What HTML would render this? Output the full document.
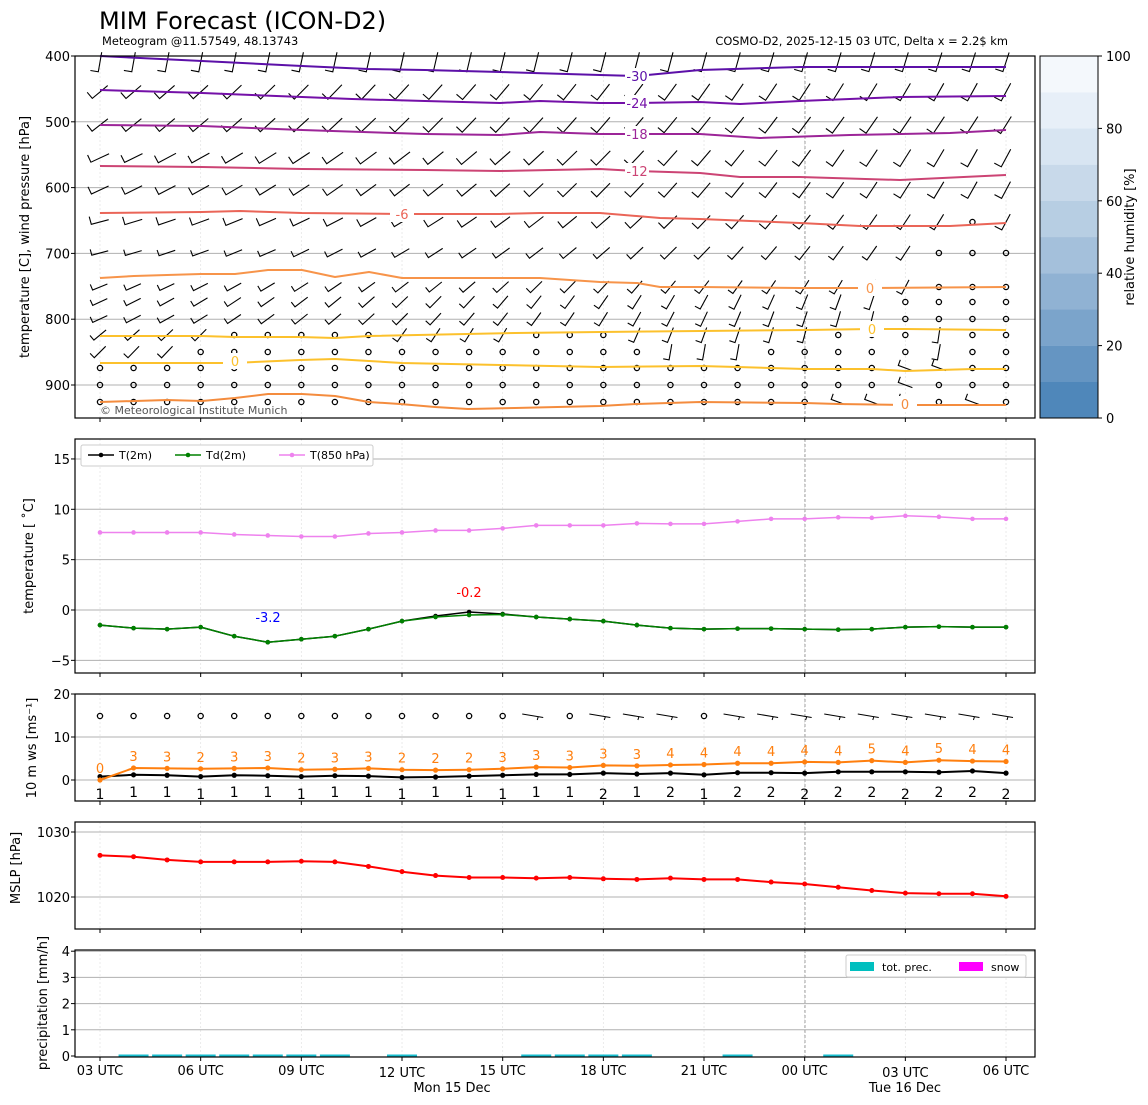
<!DOCTYPE html>
<html><head><meta charset="utf-8">
<style>
html,body{margin:0;padding:0;background:#fff;}
svg{display:block;font-family:"DejaVu Sans","Liberation Sans",sans-serif;}
</style></head>
<body>
<svg id="s" width="1148" height="1105" viewBox="0 0 1148 1105" xmlns="http://www.w3.org/2000/svg">
<rect width="1148" height="1105" fill="#fff"/>
<text x="99" y="29" font-size="24">MIM Forecast (ICON-D2)</text>
<text x="102" y="45" font-size="11.4">Meteogram @11.57549, 48.13743</text>
<text x="1008" y="45" font-size="11.4" text-anchor="end">COSMO-D2, 2025-12-15 03 UTC, Delta x = 2.2$ km</text>
<g id="g"></g>
</svg>
<script>
const NS="http://www.w3.org/2000/svg";const G=document.getElementById('g');
function el(t,a,txt){const e=document.createElementNS(NS,t);for(const k in a)e.setAttribute(k,a[k]);if(txt!==undefined)e.textContent=txt;G.appendChild(e);return e;}
const L=75,R=1035;const X=i=>100+i*33.556;
const panels=[[56,418],[439,673],[694,801],[822,929],[950,1057]];
const majorX=[0,3,6,9,12,15,18,21,24,27].map(X);
panels.forEach(([t,b])=>{
 majorX.forEach(x=>el('line',{x1:x,x2:x,y1:t,y2:b,stroke:'#e6e6e6','stroke-width':0.8,'stroke-dasharray':'2,2'}));
 el('line',{x1:805,x2:805,y1:t,y2:b,stroke:'#666','stroke-width':0.6,'stroke-dasharray':'3,2'});
});
function hgrid(t,ys){ys.forEach(y=>el('line',{x1:L,x2:R,y1:y,y2:y,stroke:'#b0b0b0','stroke-width':1}));}
function ytick(ys,labels,tx){ys.forEach((y,i)=>{el('line',{x1:L-4,x2:L,y1:y,y2:y,stroke:'#000'});el('text',{x:tx||70,y:y+5,'font-size':13,'text-anchor':'end'},labels[i]);});}
function ylab(x,y,s){el('text',{x:x,y:y,'font-size':13,'text-anchor':'middle',transform:`rotate(-90 ${x} ${y})`},s);}
// ---------- Panel 1
const py=p=>56+(p-400)*0.658;
hgrid(0,[500,600,700,800,900].map(py));
ytick([400,500,600,700,800,900].map(py),['400','500','600','700','800','900']);
ylab(29,237,'temperature [C], wind pressure [hPa]');
function barb(x,y,a,len,h,sw){const r=a*Math.PI/180;const c=Math.cos(r),s=Math.sin(r);
 const x1=x-len/2*c,y1=y+len/2*s,x2=x+len/2*c,y2=y-len/2*s;
 const r2=(a+90)*Math.PI/180;const hx=x1+h*Math.cos(r2),hy=y1-h*Math.sin(r2);
 el('path',{d:`M${hx.toFixed(1)},${hy.toFixed(1)}L${x1.toFixed(1)},${y1.toFixed(1)}L${x2.toFixed(1)},${y2.toFixed(1)}`,stroke:'#000','stroke-width':1.1,fill:'none'});}
function calm(x,y){el('circle',{cx:x,cy:y,r:2.6,fill:'none',stroke:'#000','stroke-width':1.3});}
const rows=[[62,80,72,20],[92,40,62,20],[125,38,58,20],[158,25,62,20],[190,25,62,19],[222,15,62,18],[253,15,62,17],[287,22,68,16],[302,25,80,16],[319,25,85,16],[335,40,85,16],[352,45,70,16],[368,45,-20,15],[385,45,-20,15],[402,45,-15,15]];
const calmSet={222:[26],253:[25,26,27],287:[25,26,27],302:[24,25,26,27],319:[24,25,26,27],
335:[4,5,6,7,8,13,14,15,22,23,24,26,27],352:[3,4,5,6,7,8,9,10,11,12,13,14,15,16,20,21,22,23,24,26,27],
368:[0,1,2,3,4,5,6,7,8,9,10,11,12,13,14,15,16,17,18,19,20,21,22,23,26,27],
385:[0,1,2,3,4,5,6,7,8,9,10,11,12,13,14,15,16,17,18,19,20,21,22,23,25,26,27],
402:[0,1,2,3,4,5,6,7,8,9,10,11,12,13,14,15,16,17,18,19,20,21,25,27]};
rows.forEach(([y,a0,a1,len])=>{for(let i=0;i<28;i++){const x=X(i);const cs=calmSet[y]||[];
 if(cs.includes(i)){calm(x,y);continue;}
 let a=a0+(a1-a0)*i/27; if(y>=368) a=-20; if(y==352&&i>=17) a=80;
 barb(x,y,a,len,y<240?8:6);}});
function poly(pts,col,w){el('polyline',{points:pts.map(p=>p.join(',')).join(' '),fill:'none',stroke:col,'stroke-width':w||2,'stroke-linejoin':'round'});}
function clabel(x,y,s,col){el('rect',{x:x-12,y:y-8,width:24,height:16,fill:'#fff'});el('text',{x:x,y:y+5,'font-size':13,'text-anchor':'middle',fill:col},s);}
const C=[
[[[100,56],[202,61],[302,66],[368,69],[425,70],[500,72],[600,75],[637,76],[700,70],[800,67],[900,67],[1006,67]],'#5c10a8',637,76,'-30'],
[[[100,90],[202,93],[302,97],[352,99],[425,101],[500,103],[540,101],[600,103],[637,103],[700,102],[740,104],[800,101],[900,97],[1006,96]],'#7410a8',637,103,'-24'],
[[[100,125],[202,126],[302,130],[425,134],[500,135],[540,132],[600,134],[700,134],[760,138],[850,135],[950,133],[1006,130]],'#9c2598',637,134,'-18'],
[[[100,166],[202,167],[302,169],[425,170],[500,171],[600,169],[637,171],[700,173],[740,177],[800,177],[900,180],[1006,175]],'#cc4474',637,171,'-12'],
[[[100,213],[202,212],[240,211],[302,213],[402,214],[500,214],[540,213],[600,213],[660,218],[700,219],[800,223],[860,226],[950,226],[1006,223]],'#ea6558',402,214,'-6'],
[[[100,278],[134,276],[167,275],[201,274],[235,274],[268,270],[302,270],[335,277],[369,272],[402,278],[500,278],[540,278],[600,282],[637,283],[660,287],[700,287],[800,288],[870,288],[1006,287]],'#f7944a',870,288,'0'],
[[[100,336],[201,336],[235,337],[300,337],[335,338],[369,336],[515,333],[600,332],[700,331],[805,330],[872,329],[905,329],[1006,330]],'#fcc12c',872,329,'0'],
[[[100,363],[233,363],[300,360],[335,359],[369,361],[402,363],[500,365],[600,367],[700,366],[737,367],[805,369],[872,369],[905,371],[973,369],[1006,369]],'#fcc12c',235,361,'0'],
[[[100,402],[167,400],[202,401],[235,398],[268,394],[302,394],[335,396],[369,402],[400,404],[435,407],[468,409],[515,408],[600,406],[637,404],[700,402],[805,403],[838,404],[905,405],[1006,405]],'#f48c3e',905,404,'0']];
C.forEach(([p,c,lx,ly,s])=>{poly(p,c,2);clabel(lx,ly,s,c);});
el('text',{x:100,y:414,'font-size':11,fill:'#555'},'© Meteorological Institute Munich');
const cb=['#4f87ba','#6595c2','#7ba4cb','#90b2d3','#a4c0db','#b7cee3','#c8d9ea','#d8e5f2','#e7eff8','#f4f8fc'];
for(let k=0;k<10;k++){el('rect',{x:1040,y:418-(k+1)*36.2,width:58,height:36.4,fill:cb[k]});}
el('rect',{x:1040,y:56,width:58,height:362,fill:'none',stroke:'#000','stroke-width':1});
for(let k=0;k<=5;k++){const y=418-k*72.4;el('line',{x1:1098,x2:1102,y1:y,y2:y,stroke:'#000'});el('text',{x:1106,y:y+5,'font-size':13},String(k*20));}
ylab(1134,237,'relative humidity [%]');
// ---------- Panel 2
const ty=v=>610-10.07*v;
hgrid(0,[15,10,5,0,-5].map(ty));
ytick([15,10,5,0,-5].map(ty),['15','10','5','0','−5']);
ylab(33,556,'temperature [ ˚C]');
const T850=[7.7,7.7,7.7,7.7,7.5,7.4,7.3,7.3,7.6,7.7,7.9,7.9,8.1,8.4,8.4,8.4,8.6,8.55,8.55,8.8,9.05,9.05,9.2,9.15,9.35,9.25,9.05,9.05];
const T2=[-1.5,-1.8,-1.9,-1.7,-2.6,-3.2,-2.9,-2.6,-1.9,-1.1,-0.6,-0.2,-0.4,-0.7,-0.9,-1.1,-1.5,-1.8,-1.9,-1.85,-1.85,-1.9,-1.95,-1.9,-1.7,-1.65,-1.7,-1.7];
const TD=T2.map((v,i)=>i==10?-0.7:i==11?-0.5:i==12?-0.45:v);
function series(vals,f,col,w,r){poly(vals.map((v,i)=>[X(i).toFixed(1),f(v).toFixed(1)]),col,w);vals.forEach((v,i)=>el('circle',{cx:X(i),cy:f(v),r:r||2.5,fill:col}));}
series(T850,ty,'#ee82ee',1.5,2.3);
series(T2,ty,'#000',1.5,2.3);
series(TD,ty,'#008000',1.5,2.3);
el('text',{x:268,y:622,'font-size':13,'text-anchor':'middle',fill:'#0000ff'},'-3.2');
el('text',{x:469,y:597,'font-size':13,'text-anchor':'middle',fill:'#ff0000'},'-0.2');
el('rect',{x:81,y:445,width:292,height:21,fill:'#fff',stroke:'#ccc',rx:2});
[[88,'#000','T(2m)'],[175,'#008000','Td(2m)'],[279,'#ee82ee','T(850 hPa)']].forEach(([x,c,s])=>{el('line',{x1:x,x2:x+26,y1:455,y2:455,stroke:c,'stroke-width':1.5});el('circle',{cx:x+13,cy:455,r:2.3,fill:c});el('text',{x:x+31,y:459,'font-size':11},s);});
// ---------- Panel 3
const wy=v=>780-4.3*v;
hgrid(0,[10,0].map(wy));
ytick([20,10,0].map(wy),['20','10','0']);
ylab(36,748,'10 m ws [ms⁻¹]');
const GV=[0,2.8,2.7,2.6,2.7,2.8,2.4,2.5,2.7,2.4,2.3,2.4,2.6,3.0,2.9,3.4,3.3,3.5,3.6,3.9,3.9,4.2,4.1,4.5,4.1,4.6,4.4,4.3];
const GL=[0,3,3,2,3,3,2,3,3,2,2,2,3,3,3,3,3,4,4,4,4,4,4,5,4,5,4,4];
const WV=[0.8,1.2,1.1,0.8,1.1,1.0,0.8,1.0,0.9,0.6,0.7,0.9,1.1,1.3,1.3,1.6,1.4,1.6,1.2,1.7,1.7,1.6,1.9,1.9,1.9,1.8,2.1,1.6];
const WL=[1,1,1,1,1,1,1,1,1,1,1,1,1,1,1,2,1,2,1,2,2,2,2,2,2,2,2,2];
series(WV,wy,'#000',2,2.6);
series(GV,wy,'#ff7f0e',2,2.6);
GL.forEach((s,i)=>el('text',{x:X(i),y:wy(GV[i])-7,'font-size':13,'text-anchor':'middle',fill:'#ff7f0e'},String(s)));
WL.forEach((s,i)=>el('text',{x:X(i),y:797+((i%3==0)?2:0),'font-size':14,'text-anchor':'middle'},String(s)));
for(let i=0;i<28;i++){const x=X(i);if(i<13||i==14||i==18){calm(x,716);}else{el('path',{d:`M${x-14},714L${x+7},717.5M${x+2},716.7L${x+1},720`,stroke:'#000','stroke-width':1,fill:'none'});}}
// ---------- Panel 4
const my=v=>897-6.5*(v-1020);
hgrid(0,[1030,1020].map(my));
ytick([1030,1020].map(my),['1030','1020']);
ylab(20,868,'MSLP [hPa]');
const MS=[1026.4,1026.2,1025.7,1025.4,1025.4,1025.4,1025.5,1025.4,1024.7,1023.9,1023.3,1023.0,1023.0,1022.9,1023.0,1022.8,1022.7,1022.9,1022.7,1022.7,1022.3,1022.0,1021.5,1021.0,1020.6,1020.5,1020.5,1020.1];
series(MS,my,'#ff0000',2,2.5);
// ---------- Panel 5
const ry=v=>1056-26.2*v;
hgrid(0,[4,3,2,1].map(ry));
ytick([4,3,2,1,0].map(ry),['4','3','2','1','0']);
ylab(47,1003,'precipitation [mm/h]');
[1,2,3,4,5,6,7,9,13,14,15,16,19,22].forEach(i=>el('rect',{x:X(i)-15,y:1054.5,width:30,height:2,fill:'#17becf'}));
el('rect',{x:846,y:955,width:180,height:22,fill:'#fff',stroke:'#ccc',rx:2});
el('rect',{x:850,y:962,width:24,height:9,fill:'#00bfbf'});el('text',{x:882,y:971,'font-size':11},'tot. prec.');
el('rect',{x:959,y:962,width:24,height:9,fill:'#ff00ff'});el('text',{x:991,y:971,'font-size':11},'snow');
panels.forEach(([t,b],k)=>{el('rect',{x:L,y:t,width:R-L,height:b-t,fill:'none',stroke:'#000','stroke-width':1.2});
 majorX.forEach(x=>el('line',{x1:x,x2:x,y1:b,y2:b+4,stroke:'#000'}));});
const xl=['03 UTC','06 UTC','09 UTC','12 UTC','15 UTC','18 UTC','21 UTC','00 UTC','03 UTC','06 UTC'];
xl.forEach((s,k)=>el('text',{x:majorX[k],y:(k==3||k==8)?1077:1075,'font-size':13,'text-anchor':'middle'},s));
el('text',{x:452,y:1092,'font-size':13,'text-anchor':'middle'},'Mon 15 Dec');
el('text',{x:905,y:1092,'font-size':13,'text-anchor':'middle'},'Tue 16 Dec');
</script>
</body></html>
